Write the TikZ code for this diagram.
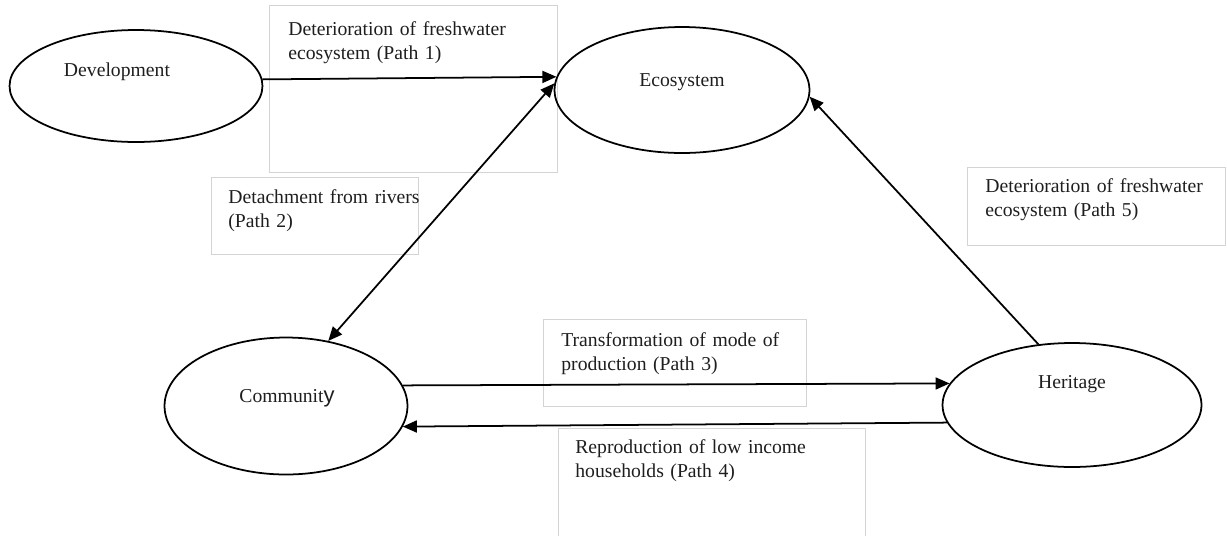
\documentclass[tikz,border=0pt]{standalone}
\usepackage{fontspec}
\setmainfont{Liberation Serif}
\setsansfont{Liberation Sans}
\usepackage{tikz}
\usetikzlibrary{positioning,arrows.meta,calc,shapes.geometric}
\definecolor{BoxGray}{RGB}{212,212,212}
\definecolor{InkBlack}{RGB}{30,30,30}
\tikzset{
  elps/.style={ellipse, draw=black, line width=1pt, inner sep=0pt},
  etxt/.style={inner sep=0pt, font=\fontsize{11.2}{14.2}\selectfont, text=InkBlack},
  ptxt/.style={inner sep=0pt, anchor=base west, align=left, text width=6cm,
    font=\fontsize{11.2}{14.2}\selectfont, text=InkBlack},
  arrow/.style={-{Triangle[length=2.8mm,width=2.4mm]}, line width=1pt, draw=black},
  twoway/.style={{Triangle[length=2.8mm,width=2.4mm]}-{Triangle[length=2.8mm,width=2.4mm]},
    line width=1pt, draw=black}
}

\begin{document}
\begin{tikzpicture}[x=0.02cm, y=-0.02cm,
      pbox/.style={draw=BoxGray, line width=0.5pt}
    ]
      \useasboundingbox (0,0) rectangle (1227,535);
      % label frames
      \draw[pbox] (269,5) rectangle (557,172);
      \draw[pbox] (211,177) rectangle (418,254);
      \draw[pbox] (967,167) rectangle (1225,245);
      \draw[pbox] (543,319) rectangle (806,406);
      \draw[pbox] (558,428) rectangle (865,560);
      % ellipses
      \node[elps, minimum width=5.06cm, minimum height=2.24cm] (dev) at (136,86) {};
      \node[elps, minimum width=5.1cm, minimum height=2.52cm] (eco) at (682,90) {};
      \node[elps, minimum width=4.86cm, minimum height=2.74cm] (com) at (286,406) {};
      \node[elps, minimum width=5.18cm, minimum height=2.48cm] (her) at (1072,405) {};
      \node[etxt] (dev-t) at (117,72) {Development};
      \node[etxt] (eco-t) at (682,82) {Ecosystem};
      \node[etxt] (com-t) at (287,398) {Communit{\sffamily\fontsize{12.5}{14}\selectfont y}};
      \node[etxt] (her-t) at (1072,384) {Heritage};
      % path labels
      \node[ptxt] (p1) at (288,35) {Deterioration of freshwater\\ecosystem (Path 1)};
      \node[ptxt] (p2) at (228,203) {Detachment from rivers\\(Path 2)};
      \node[ptxt] (p3) at (561,346) {Transformation of mode of\\production (Path 3)};
      \node[ptxt] (p4) at (575,453) {Reproduction of low income\\households (Path 4)};
      \node[ptxt] (p5) at (985,192) {Deterioration of freshwater\\ecosystem (Path 5)};
      % connectors
      \draw[arrow] (dev.3.6) -- (eco.174.5);
      \draw[twoway] (eco.177.7) -- (com.57.5);
      \draw[arrow] (com.10.3) -- (her.170.2);
      \draw[arrow] (her.188.8) -- (com.350.2);
      \draw[arrow] (her.119.1) -- (eco.357.8);
    \end{tikzpicture}
\end{document}
